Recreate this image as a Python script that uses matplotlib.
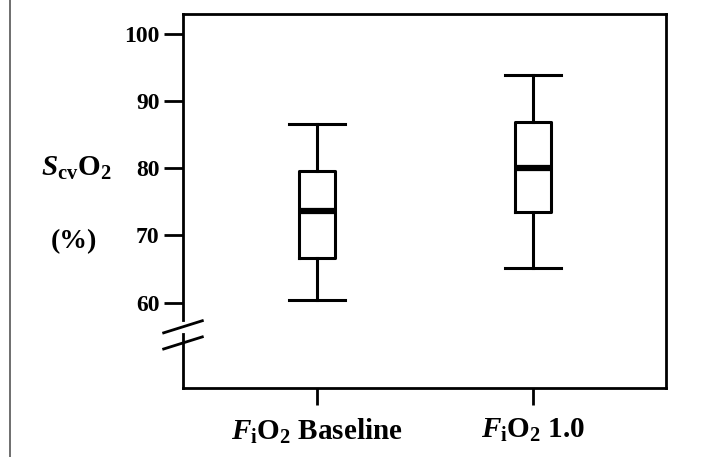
import numpy as np
import matplotlib
matplotlib.use("Agg")
import matplotlib.pyplot as plt
from matplotlib.lines import Line2D

plt.rcParams['font.family'] = 'Liberation Serif'
plt.rcParams['font.weight'] = 'bold'
plt.rcParams['mathtext.fontset'] = 'custom'
plt.rcParams['mathtext.rm'] = 'Liberation Serif:bold'
plt.rcParams['mathtext.it'] = 'Liberation Serif:italic:bold'
plt.rcParams['mathtext.bf'] = 'Liberation Serif:bold'

# box statistics: low whisker, Q1, median, Q3, high whisker
groups = [r'$F_{\mathrm{i}}\mathrm{O}_{2}$ Baseline', r'$F_{\mathrm{i}}\mathrm{O}_{2}$ 1.0']
whislo = [60.4, 65.2]
q1 = [66.7, 73.4]
med = [73.6, 80.0]
q3 = [79.6, 86.9]
whishi = [86.5, 93.9]
yticks = [60, 70, 80, 90, 100]

stats = []
for i in range(len(groups)):
    stats.append({'whislo': whislo[i], 'q1': q1[i], 'med': med[i],
                  'q3': q3[i], 'whishi': whishi[i], 'fliers': []})

fig = plt.figure(figsize=(7.03, 4.57), dpi=100)
ax = fig.add_axes([183 / 703, 1 - 388 / 457, 483 / 703, 374 / 457])

lw = 2.2
ax.bxp(stats, positions=[1, 2], widths=0.166, showfliers=False,
       boxprops=dict(color='black', linewidth=lw),
       whiskerprops=dict(color='black', linewidth=lw),
       capprops=dict(color='black', linewidth=lw),
       medianprops=dict(color='black', linewidth=4.5),
       capwidths=0.26)

ax.set_xlim(0.381, 2.613)
ax.set_ylim(47.3, 102.9)
ax.set_yticks(yticks)
ax.set_xticks([1, 2])
ax.set_xticklabels(groups, fontsize=21)
ax.tick_params(axis='y', labelsize=17, length=14, width=2, pad=3)
ax.tick_params(axis='x', length=12, width=2, pad=9)
for s in ax.spines.values():
    s.set_linewidth(2)

# axis break on the left spine
ax.spines['left'].set_visible(False)
trans = ax.get_yaxis_transform()
ax.plot([0, 0], [47.3, 55.3], color='black', lw=2, transform=trans, clip_on=False)
ax.plot([0, 0], [57.4, 102.9], color='black', lw=2, transform=trans, clip_on=False)
for y0 in [54.0, 56.4]:
    ax.plot([-0.04, 0.04], [y0 - 0.9, y0 + 0.9], color='black', lw=2,
            transform=trans, clip_on=False)

fig.text(76 / 703, 1 - 168 / 457, r'$S_{\mathrm{cv}}\mathrm{O}_{2}$', fontsize=21,
         ha='center', va='center')
fig.text(74 / 703, 1 - 242 / 457, '(%)', fontsize=20, ha='center', va='center',
         fontweight='bold')

# thin frame line at the left edge
fig.add_artist(Line2D([9.5 / 703, 9.5 / 703], [0, 1], color='#555555', lw=1.2))

fig.savefig('out.png', dpi=100)
